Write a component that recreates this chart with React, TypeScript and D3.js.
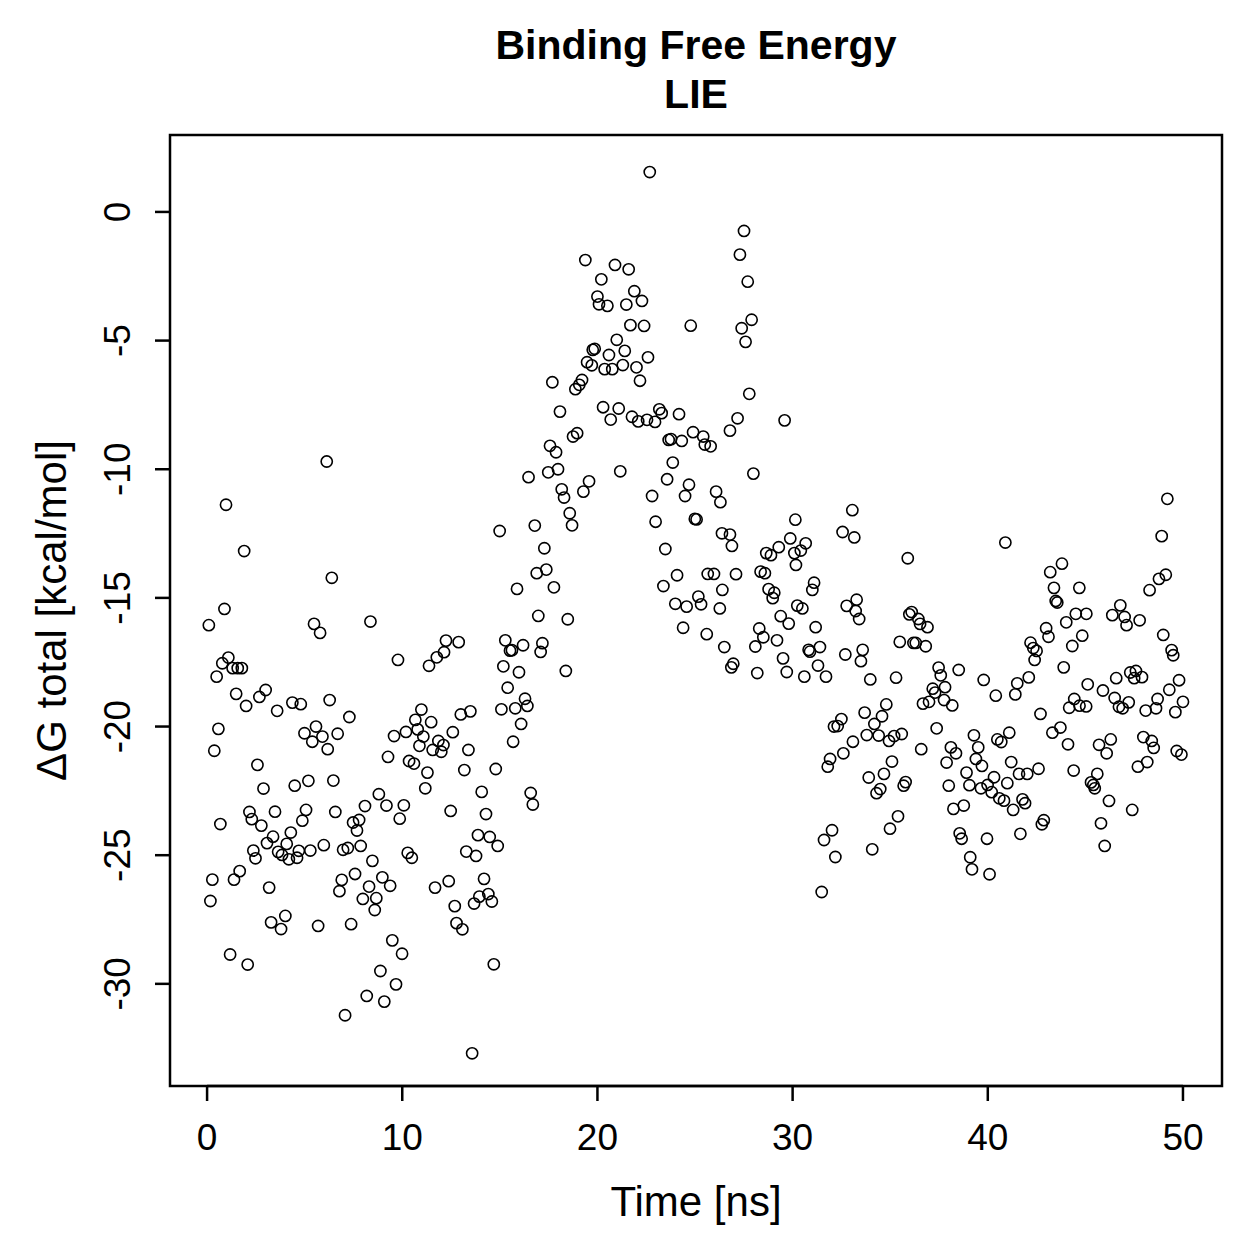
import React from "react";
import * as d3 from "d3";

// time (ns) and binding free energy (kcal/mol)
const timeNs = [
  0.09, 0.17, 0.27, 0.37, 0.49, 0.58, 0.68, 0.78, 0.89, 0.97,
  1.09, 1.18, 1.31, 1.38, 1.49, 1.57, 1.67, 1.78, 1.9, 2.0,
  2.08, 2.17, 2.29, 2.37, 2.48, 2.58, 2.68, 2.78, 2.89, 3.0,
  3.07, 3.18, 3.28, 3.38, 3.48, 3.59, 3.64, 3.79, 3.84, 4.01,
  4.08, 4.19, 4.29, 4.37, 4.49, 4.61, 4.7, 4.8, 4.88, 4.99,
  5.07, 5.19, 5.29, 5.39, 5.48, 5.58, 5.69, 5.79, 5.91, 5.98,
  6.13, 6.18, 6.28, 6.39, 6.47, 6.57, 6.69, 6.78, 6.9, 6.97,
  7.07, 7.21, 7.29, 7.38, 7.48, 7.58, 7.68, 7.79, 7.87, 7.98,
  8.09, 8.18, 8.3, 8.37, 8.47, 8.59, 8.67, 8.8, 8.88, 8.98,
  9.08, 9.19, 9.27, 9.38, 9.49, 9.58, 9.68, 9.78, 9.87, 9.99,
  10.08, 10.19, 10.28, 10.35, 10.49, 10.6, 10.67, 10.79, 10.88, 10.98,
  11.08, 11.18, 11.29, 11.37, 11.48, 11.56, 11.68, 11.77, 11.85, 12.0,
  12.11, 12.14, 12.24, 12.38, 12.48, 12.59, 12.69, 12.78, 12.89, 13.0,
  13.08, 13.18, 13.28, 13.39, 13.49, 13.58, 13.68, 13.78, 13.88, 13.95,
  14.07, 14.19, 14.29, 14.41, 14.48, 14.59, 14.69, 14.79, 14.89, 14.99,
  15.08, 15.18, 15.28, 15.4, 15.52, 15.62, 15.68, 15.79, 15.88, 15.98,
  16.09, 16.19, 16.29, 16.41, 16.47, 16.58, 16.69, 16.79, 16.89, 16.97,
  17.09, 17.18, 17.28, 17.38, 17.48, 17.57, 17.69, 17.77, 17.88, 17.98,
  18.08, 18.17, 18.29, 18.38, 18.48, 18.58, 18.7, 18.75, 18.87, 18.96,
  19.07, 19.21, 19.28, 19.38, 19.47, 19.57, 19.71, 19.76, 19.86, 20.0,
  20.08, 20.2, 20.29, 20.37, 20.51, 20.59, 20.68, 20.76, 20.9, 20.99,
  21.09, 21.17, 21.3, 21.4, 21.48, 21.6, 21.69, 21.77, 21.89, 22.0,
  22.09, 22.18, 22.28, 22.39, 22.54, 22.59, 22.68, 22.8, 22.95, 22.98,
  23.17, 23.29, 23.38, 23.48, 23.57, 23.65, 23.77, 23.86, 23.99, 24.08,
  24.18, 24.32, 24.39, 24.49, 24.57, 24.69, 24.78, 24.9, 24.99, 25.08,
  25.17, 25.31, 25.42, 25.5, 25.6, 25.65, 25.8, 25.97, 26.08, 26.27,
  26.3, 26.38, 26.4, 26.5, 26.79, 26.79, 26.86, 26.89, 26.96, 27.1,
  27.18, 27.3, 27.39, 27.51, 27.59, 27.7, 27.78, 27.9, 27.99, 28.09,
  28.19, 28.29, 28.36, 28.5, 28.58, 28.65, 28.77, 28.89, 28.98, 29.06,
  29.2, 29.29, 29.39, 29.51, 29.59, 29.7, 29.8, 29.88, 30.09, 30.14,
  30.17, 30.24, 30.42, 30.5, 30.6, 30.67, 30.82, 30.89, 31.01, 31.1,
  31.18, 31.3, 31.4, 31.49, 31.61, 31.71, 31.8, 31.92, 32.02, 32.12,
  32.19, 32.31, 32.5, 32.56, 32.6, 32.7, 32.77, 33.06, 33.09, 33.16,
  33.23, 33.28, 33.41, 33.5, 33.59, 33.69, 33.8, 33.9, 33.98, 34.08,
  34.19, 34.3, 34.41, 34.49, 34.58, 34.68, 34.8, 34.94, 34.99, 35.09,
  35.2, 35.3, 35.4, 35.49, 35.59, 35.69, 35.79, 35.9, 35.98, 36.1,
  36.19, 36.31, 36.44, 36.53, 36.59, 36.68, 36.82, 36.91, 36.99, 37.18,
  37.3, 37.38, 37.48, 37.59, 37.76, 37.81, 37.89, 38.0, 38.11, 38.18,
  38.24, 38.37, 38.51, 38.56, 38.66, 38.77, 38.91, 39.06, 39.1, 39.19,
  39.29, 39.39, 39.51, 39.65, 39.7, 39.79, 39.96, 39.99, 40.09, 40.2,
  40.32, 40.41, 40.49, 40.59, 40.69, 40.83, 40.9, 41.0, 41.1, 41.2,
  41.3, 41.41, 41.51, 41.6, 41.67, 41.78, 41.91, 42.02, 42.1, 42.19,
  42.33, 42.4, 42.5, 42.6, 42.7, 42.77, 42.87, 42.99, 43.11, 43.2,
  43.31, 43.39, 43.48, 43.56, 43.72, 43.8, 43.89, 44.02, 44.11, 44.17,
  44.33, 44.4, 44.43, 44.51, 44.69, 44.7, 44.84, 45.04, 45.05, 45.12,
  45.29, 45.41, 45.48, 45.61, 45.7, 45.8, 45.9, 45.99, 46.09, 46.21,
  46.3, 46.38, 46.5, 46.58, 46.72, 46.79, 46.91, 47.01, 47.11, 47.22,
  47.3, 47.4, 47.5, 47.59, 47.69, 47.78, 47.9, 47.97, 48.09, 48.17,
  48.29, 48.4, 48.5, 48.62, 48.7, 48.77, 48.91, 48.99, 49.12, 49.2,
  49.3, 49.42, 49.5, 49.61, 49.68, 49.8, 49.92, 50.0,
];

const dGTotal = [
  -16.06, -26.78, -25.95, -20.94, -18.06, -20.09, -23.79, -17.54, -15.43, -11.38,
  -17.32, -28.86, -17.73, -25.95, -18.73, -17.73, -25.62, -17.73, -13.18, -19.2,
  -29.25, -23.32, -23.6, -24.82, -25.12, -21.49, -18.85, -23.85, -22.41, -18.58,
  -24.53, -26.26, -27.61, -24.28, -23.31, -19.39, -24.87, -27.87, -24.99, -27.36,
  -24.56, -25.16, -24.12, -19.07, -22.3, -25.1, -24.83, -19.13, -23.66, -20.26,
  -23.24, -22.11, -24.82, -20.59, -16.01, -20.0, -27.75, -16.36, -20.39, -24.61,
  -9.7, -20.88, -18.97, -14.22, -22.1, -23.32, -20.28, -26.4, -25.96, -24.79,
  -31.22, -24.72, -19.63, -27.68, -23.73, -25.73, -24.04, -23.63, -24.64, -26.7,
  -23.09, -30.47, -26.22, -15.92, -25.22, -27.13, -26.67, -22.63, -29.5, -25.86,
  -30.69, -23.07, -21.18, -26.19, -28.31, -20.37, -30.02, -17.41, -23.58, -28.83,
  -23.06, -20.21, -24.91, -21.34, -25.1, -21.44, -19.74, -20.11, -20.75, -19.34,
  -20.39, -22.4, -21.79, -17.64, -19.83, -20.91, -26.26, -17.31, -20.56, -20.98,
  -20.72, -17.11, -16.66, -26.01, -23.28, -20.22, -26.98, -27.64, -16.72, -19.53,
  -27.88, -21.69, -24.86, -20.91, -19.41, -32.7, -26.88, -25.03, -24.22, -26.61,
  -22.54, -25.92, -23.4, -26.51, -24.29, -26.8, -29.24, -21.65, -24.64, -12.4,
  -19.33, -17.66, -16.65, -18.49, -17.05, -17.03, -20.59, -19.29, -14.65, -17.89,
  -19.9, -16.84, -18.92, -19.2, -10.31, -22.58, -23.03, -12.19, -14.04, -15.7,
  -17.1, -16.76, -13.07, -13.9, -10.12, -9.09, -6.62, -14.59, -9.34, -10.0,
  -7.76, -10.78, -11.1, -17.84, -15.83, -11.71, -12.18, -8.73, -6.89, -8.6,
  -6.72, -6.53, -10.87, -1.87, -5.84, -10.47, -5.96, -5.36, -5.32, -3.29,
  -3.59, -2.62, -7.59, -6.11, -3.65, -5.56, -8.07, -6.11, -2.06, -4.97,
  -7.64, -10.08, -5.95, -5.4, -3.6, -2.23, -4.4, -7.96, -3.08, -6.04,
  -8.14, -6.56, -3.46, -4.43, -8.08, -5.65, 1.55, -11.04, -8.16, -12.04,
  -7.67, -7.82, -14.54, -13.1, -10.39, -8.86, -8.83, -9.74, -15.23, -14.12,
  -7.86, -8.9, -16.16, -11.04, -15.34, -10.6, -4.42, -8.56, -11.93, -11.95,
  -14.95, -15.25, -8.73, -9.04, -16.41, -14.07, -9.11, -14.07, -10.87, -15.41,
  -11.28, -12.49, -14.69, -16.91, -12.54, -8.5, -17.7, -12.98, -17.56, -14.08,
  -8.02, -1.66, -4.52, -0.74, -5.05, -2.71, -7.07, -4.19, -10.17, -16.89,
  -17.92, -16.19, -13.98, -16.53, -14.04, -13.26, -14.66, -13.34, -15.01, -14.8,
  -16.65, -13.03, -15.71, -17.35, -8.1, -17.88, -16.0, -12.69, -13.26, -11.96,
  -13.72, -15.3, -13.16, -15.41, -18.06, -12.88, -17.02, -17.09, -14.69, -14.41,
  -16.14, -17.63, -16.91, -26.43, -24.41, -18.06, -21.56, -21.26, -24.03, -20.0,
  -25.07, -19.98, -19.71, -12.44, -21.04, -17.2, -15.31, -11.59, -20.59, -12.65,
  -15.51, -15.07, -15.82, -17.46, -17.02, -19.46, -20.33, -21.98, -18.17, -24.77,
  -19.9, -22.59, -20.35, -22.43, -19.6, -21.84, -19.14, -20.56, -23.97, -21.36,
  -20.37, -18.1, -23.49, -16.71, -20.29, -22.3, -22.16, -13.46, -15.64, -15.55,
  -16.75, -16.75, -15.82, -16.01, -20.88, -19.11, -16.88, -16.14, -19.04, -18.53,
  -18.68, -20.07, -17.71, -18.01, -18.97, -18.47, -21.4, -22.3, -20.81, -19.18,
  -23.2, -21.04, -17.8, -24.15, -24.36, -23.07, -21.79, -22.28, -25.08, -25.55,
  -20.34, -21.26, -20.81, -22.4, -21.53, -18.19, -24.36, -22.27, -25.74, -22.55,
  -21.97, -18.8, -20.5, -22.79, -20.6, -22.88, -12.85, -22.2, -20.24, -21.38,
  -23.24, -18.75, -18.32, -21.84, -24.17, -22.83, -22.98, -21.84, -18.09, -16.74,
  -16.95, -17.41, -17.06, -21.64, -19.51, -23.8, -23.64, -16.18, -16.51, -14.0,
  -20.24, -14.61, -15.12, -15.18, -20.04, -13.67, -17.7, -15.95, -20.69, -19.27,
  -16.87, -21.71, -18.93, -15.62, -14.61, -19.19, -16.47, -19.22, -15.62, -18.36,
  -22.17, -22.27, -22.4, -21.84, -20.71, -23.76, -18.6, -24.64, -21.04, -22.89,
  -20.5, -15.67, -18.89, -18.12, -19.23, -15.29, -19.29, -15.74, -16.06, -19.06,
  -17.9, -23.24, -18.12, -17.84, -21.56, -15.87, -18.08, -20.41, -19.38, -21.38,
  -14.7, -20.56, -20.83, -19.29, -18.93, -14.26, -12.6, -16.44, -14.1, -11.15,
  -18.57, -17.03, -17.23, -19.44, -20.95, -18.2, -21.09, -19.04,
];

const xTicks = [0, 10, 20, 30, 40, 50];
const yTicks = [0, -5, -10, -15, -20, -25, -30];
// axis limits as shown in the original figure
const xLimits = [-1.9, 52.0];
const yLimits = [-33.97, 2.99];

const W = 1259;
const H = 1259;
const box = { left: 170, right: 1222, top: 135, bottom: 1086 };
const font = "'Liberation Sans', Arial, Helvetica, sans-serif";

export default function App() {
  const x = d3.scaleLinear().domain(xLimits).range([box.left, box.right]);
  const y = d3.scaleLinear().domain(yLimits).range([box.bottom, box.top]);
  const pts = timeNs.map((t, i) => [t, dGTotal[i]]);
  const cx = (box.left + box.right) / 2;

  return (
    <svg
      width={W}
      height={H}
      style={{ position: "absolute", left: 0, top: 0, background: "#fff" }}
      fontFamily={font}
    >
      <rect width={W} height={H} fill="#fff" />
      <text x={cx} y={59} textAnchor="middle" fontSize={41} fontWeight="bold">
        Binding Free Energy
      </text>
      <text x={cx} y={108} textAnchor="middle" fontSize={41} fontWeight="bold">
        LIE
      </text>

      {pts.map(([t, g], i) => (
        <circle key={i} cx={x(t)} cy={y(g)} r={5.6} fill="none" stroke="#000" strokeWidth={1.6} />
      ))}

      <rect
        x={box.left}
        y={box.top}
        width={box.right - box.left}
        height={box.bottom - box.top}
        fill="none"
        stroke="#000"
        strokeWidth={2.5}
      />

      {/* x axis */}
      <line x1={x(xTicks[0])} x2={x(xTicks[xTicks.length - 1])} y1={box.bottom} y2={box.bottom} stroke="#000" strokeWidth={2.5} />
      {xTicks.map((t) => (
        <g key={t}>
          <line x1={x(t)} x2={x(t)} y1={box.bottom} y2={box.bottom + 15} stroke="#000" strokeWidth={2.5} />
          <text x={x(t)} y={1150} textAnchor="middle" fontSize={37}>
            {t}
          </text>
        </g>
      ))}
      <text x={cx} y={1216} textAnchor="middle" fontSize={42}>
        Time [ns]
      </text>

      {/* y axis */}
      {yTicks.map((t) => (
        <g key={t}>
          <line x1={box.left - 15} x2={box.left} y1={y(t)} y2={y(t)} stroke="#000" strokeWidth={2.5} />
          <text
            transform={`translate(130,${y(t)}) rotate(-90)`}
            textAnchor="middle"
            fontSize={37}
          >
            {t}
          </text>
        </g>
      ))}
      <text
        transform={`translate(66,${(box.top + box.bottom) / 2}) rotate(-90)`}
        textAnchor="middle"
        fontSize={42}
      >
        ΔG total [kcal/mol]
      </text>
    </svg>
  );
}
